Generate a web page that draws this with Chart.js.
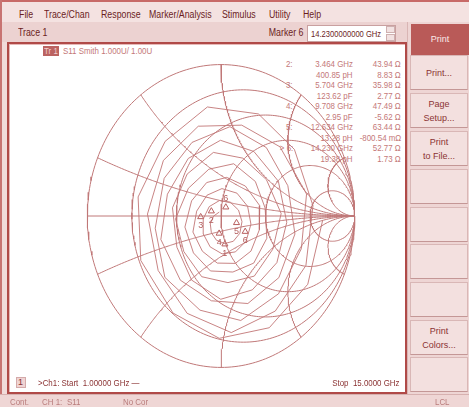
<!DOCTYPE html>
<html><head><meta charset="utf-8">
<script src="https://cdn.jsdelivr.net/npm/chart.js@4/dist/chart.umd.min.js"></script>
<style>
*{box-sizing:border-box}
body{margin:0;width:469px;height:407px;overflow:hidden;background:#f1dbda;font-family:"Liberation Sans",Arial,sans-serif;position:relative}
.a{position:absolute;white-space:nowrap;line-height:1}
.sq{transform:scaleX(.88);transform-origin:left center}
.sqr{transform:scaleX(.88);transform-origin:right center;text-align:right}
.menu{font-size:10px;color:#6b1d1d;top:10px}
.btn{position:absolute;left:410px;width:58px;height:35px;background:#f3e0df;border:1px solid #d9b7b6;border-bottom-color:#c49796;color:#8b3333;font-size:9px;text-align:center;display:flex;align-items:center;justify-content:center;line-height:14px}
.ro{font-size:9px;color:#c47878}
.st{font-size:9px;color:#b97c7c;top:398px}
</style></head>
<body>
<div class="a" style="left:0;top:0;width:469px;height:2px;background:#c86a68"></div>
<div class="a" style="left:0;top:2px;width:469px;height:20px;background:#f4e2e1"></div>
<div class="a" style="left:0;top:22px;width:469px;height:20px;background:#ecd2d1"></div>
<div class="a" style="left:0;top:0;width:2px;height:407px;background:#c87472"></div>

<div class="a menu sq" style="left:19px">File</div>
<div class="a menu sq" style="left:44px">Trace/Chan</div>
<div class="a menu sq" style="left:101px">Response</div>
<div class="a menu sq" style="left:149px">Marker/Analysis</div>
<div class="a menu sq" style="left:222px">Stimulus</div>
<div class="a menu sq" style="left:269px">Utility</div>
<div class="a menu sq" style="left:303px">Help</div>

<div class="a sq" style="left:18px;top:28px;font-size:10px;color:#6b1d1d">Trace 1</div>
<div class="a sqr" style="right:166px;top:28px;font-size:10px;color:#6b1d1d">Marker 6</div>
<div class="a" style="left:307px;top:25px;width:89px;height:17px;background:#fff;border:1px solid #c9a0a0"></div>
<div class="a" style="left:311px;top:29px;font-size:9.5px;color:#6b1d1d;transform:scaleX(.8);transform-origin:left center">14.2300000000 GHz</div>
<div class="a" style="left:386px;top:26px;width:9px;height:7px;background:#f2e2e2;border:1px solid #cfb0b0"></div>
<div class="a" style="left:386px;top:34px;width:9px;height:7px;background:#f2e2e2;border:1px solid #cfb0b0"></div>

<div class="a" style="left:407px;top:22px;width:62px;height:372px;background:#eed5d4;border-left:1px solid #d9b5b4"></div>
<div class="a" style="left:411px;top:24px;width:58px;height:31px;background:#b95a58;color:#fbe9e8;font-size:9px;display:flex;align-items:center;justify-content:center">Print</div>
<div id="btns"></div>

<div class="a" style="left:7px;top:42px;width:400px;height:352px;background:#fff;border:2px solid #b04a48;box-shadow:inset 1px 1px 0 #e6b9b8"></div>
<div class="a" style="left:43px;top:46px;width:16px;height:10px;background:#bb6361"></div>
<div class="a sq" style="left:44px;top:47px;font-size:9px;color:#f2cfcf">Tr 1</div>
<div class="a sq" style="left:63px;top:47px;font-size:9px;color:#c47878">S11 Smith 1.000U/ 1.00U</div>

<div id="readout"></div>

<canvas id="c" width="320" height="340" style="position:absolute;left:61px;top:46px"></canvas>

<div class="a" style="left:16px;top:377px;width:10px;height:11px;background:#f0d4d3;border:1px solid #d4aaaa"></div>
<div class="a" style="left:18px;top:378px;font-size:9px;color:#8b3333">1</div>
<div class="a sq" style="left:38px;top:379px;font-size:9px;color:#8b3333">&gt;Ch1: Start&nbsp; 1.00000 GHz —</div>
<div class="a sqr" style="right:69px;top:379px;font-size:9px;color:#8b3333">Stop&nbsp; 15.0000 GHz</div>

<div class="a" style="left:0;top:394px;width:469px;height:13px;background:#efd6d5;border-top:1px solid #d7b1b0"></div>
<div class="a st sq" style="left:10px">Cont.</div>
<div class="a st sq" style="left:42px">CH 1:</div>
<div class="a st sq" style="left:67px">S11</div>
<div class="a st sq" style="left:123px">No Cor</div>
<div class="a st sq" style="left:435px">LCL</div>

<script>
// ---------------- data ----------------
const traceRe = [0.76,0.649,0.361,-0.013,-0.359,-0.60,-0.62,-0.418,-0.102,0.28,0.549,0.688,0.635,0.406,0.077,-0.253,-0.47,-0.550,-0.431,-0.170,0.155,0.441,0.64,0.601,0.430,0.148,-0.157,-0.42,-0.492,-0.425,-0.217,0.067,0.339,0.50,0.553,0.433,0.201,-0.072,-0.304,-0.45,-0.401,-0.245,-0.004,0.246,0.429,0.492,0.418,0.234,-0.002,-0.220,-0.33,-0.363,-0.253,-0.057,0.164,0.340,0.45,0.387,0.249,0.052,-0.144,-0.278,-0.34,-0.244,-0.091,0.095,0.257,0.33,0.343,0.245,0.089,-0.079,-0.206,-0.27,-0.220,-0.107,0.043,0.182,0.29,0.287,0.224,0.107,-0.028,-0.139,-0.21,-0.182,-0.105,0.007,0.119,0.199,0.224,0.188,0.108,0.008,-0.081,-0.132,-0.133,-0.088,-0.012,0.069,0.131,0.157,0.141,0.092,0.027,-0.034,-0.072,-0.080,-0.056,-0.013];
const traceIm = [-0.03,-0.451,-0.738,-0.808,-0.641,-0.294,0.126,0.493,0.72,0.674,0.440,0.068,-0.327,-0.628,-0.77,-0.643,-0.360,0.013,0.367,0.593,0.60,0.457,0.145,-0.216,-0.514,-0.69,-0.622,-0.405,-0.081,0.249,0.486,0.59,0.452,0.200,-0.119,-0.407,-0.578,-0.56,-0.424,-0.155,0.144,0.380,0.50,0.426,0.230,-0.042,-0.308,-0.488,-0.55,-0.423,-0.206,0.054,0.277,0.42,0.382,0.240,0.016,-0.220,-0.397,-0.44,-0.401,-0.235,-0.019,0.183,0.309,0.345,0.228,0.053,-0.147,-0.311,-0.37,-0.363,-0.244,-0.073,0.100,0.221,0.255,0.198,0.068,-0.091,-0.232,-0.313,-0.311,-0.233,-0.106,0.032,0.137,0.181,0.151,0.064,-0.054,-0.166,-0.237,-0.250,-0.204,-0.119,-0.019,0.062,0.102,0.092,0.039,-0.037,-0.114,-0.167,-0.182,-0.160,-0.111,-0.052,-0.001,0.026];

const markerLabels = ['1','2','3','4','5','6','6'];
const markerRe = [0.029,-0.072,-0.152,-0.014,0.116,0.181,0.036];
const markerIm = [-0.186,0.032,-0.006,-0.115,-0.045,-0.103,0.058];

const readNames  = ['2:','','3:','','4:','','5:','','> 6:',''];
const readFreqs  = ['3.464 GHz','400.85 pH','5.704 GHz','123.62 pF','9.708 GHz','2.95 pF','12.634 GHz','13.28 pH','14.230 GHz','19.38 pH'];
const readValues = ['43.94 Ω','8.83 Ω','35.98 Ω','2.77 Ω','47.49 Ω','-5.62 Ω','63.44 Ω','-800.54 mΩ','52.77 Ω','1.73 Ω'];

const gridResistance = [0, 0.2, 0.5, 1, 2, 5];
const gridReactance  = [0.2, 0.5, 1, 2, 5];

const buttonLabels = ['Print...','Page<br>Setup...','Print<br>to File...','','','','','Print<br>Colors...',''];

// ---------------- chrome ----------------
const btnTops = [55,93,131,169,207,244,282,320,357];
document.getElementById('btns').innerHTML = buttonLabels.map((t,i)=>
  `<div class="btn" style="top:${btnTops[i]}px">${t}</div>`).join('');
let ro='';
readNames.forEach((n,i)=>{
  const top = 60 + i*10.5;
  ro += `<div class="a ro sqr" style="right:176px;top:${top}px">${n}</div>`;
  ro += `<div class="a ro sqr" style="right:116px;top:${top}px">${readFreqs[i]}</div>`;
  ro += `<div class="a ro sqr" style="right:68px;top:${top}px">${readValues[i]}</div>`;
});
document.getElementById('readout').innerHTML = ro;

// ---------------- chart ----------------
const GRID = '#c07878', TRACE = 'rgba(190,110,110,0.85)';
function gam(r,x){const d=(r+1)*(r+1)+x*x;return {x:(r*r+x*x-1)/d,y:2*x/d};}
const datasets=[];
gridResistance.forEach(r=>{
  const cx=r/(1+r), rad=1/(1+r), pts=[];
  for(let i=0;i<=240;i++){const t=i/240*2*Math.PI;pts.push({x:cx+rad*Math.cos(t),y:rad*Math.sin(t)});}
  datasets.push({data:pts});
});
gridReactance.forEach(xv=>{
  [xv,-xv].forEach(x=>{
    const pts=[];
    for(let i=0;i<200;i++){const r=Math.tan(i/200*Math.PI/2);pts.push(gam(r,x));}
    pts.push({x:1,y:0});
    datasets.push({data:pts});
  });
});
datasets.push({data:[{x:-1,y:0},{x:1,y:0}]});
datasets.forEach(d=>Object.assign(d,{showLine:true,borderColor:GRID,borderWidth:1,pointRadius:0,fill:false}));
datasets.push({data:traceRe.map((v,i)=>({x:v,y:traceIm[i]})),showLine:true,borderColor:TRACE,borderWidth:1,pointRadius:0,fill:false});
const markerIndex = datasets.length;
datasets.push({data:markerRe.map((v,i)=>({x:v,y:markerIm[i]})),showLine:false,pointStyle:'triangle',pointRadius:3.5,borderColor:'#b85e5e',backgroundColor:'rgba(0,0,0,0)',borderWidth:1});

const labelAbove=[false,false,false,false,false,false,true];
const labelPlugin={id:'mlabels',afterDatasetsDraw(chart){
  const meta=chart.getDatasetMeta(markerIndex),c=chart.ctx;
  c.save();c.font='9px "Liberation Sans", Arial';c.fillStyle='#b35c5c';c.textAlign='center';c.textBaseline='middle';
  meta.data.forEach((el,i)=>c.fillText(markerLabels[i],el.x,el.y+(labelAbove[i]?-9:9)));
  c.restore();
}};

const XR=160/138, YR=170/156;
new Chart(document.getElementById('c'),{
  type:'scatter',
  data:{datasets},
  options:{responsive:false,animation:false,devicePixelRatio:1,events:[],
    layout:{padding:0},
    plugins:{legend:{display:false},tooltip:{enabled:false}},
    scales:{x:{type:'linear',min:-XR,max:XR,display:false},y:{type:'linear',min:-YR,max:YR,display:false}}},
  plugins:[labelPlugin]
});
</script>
</body></html>
